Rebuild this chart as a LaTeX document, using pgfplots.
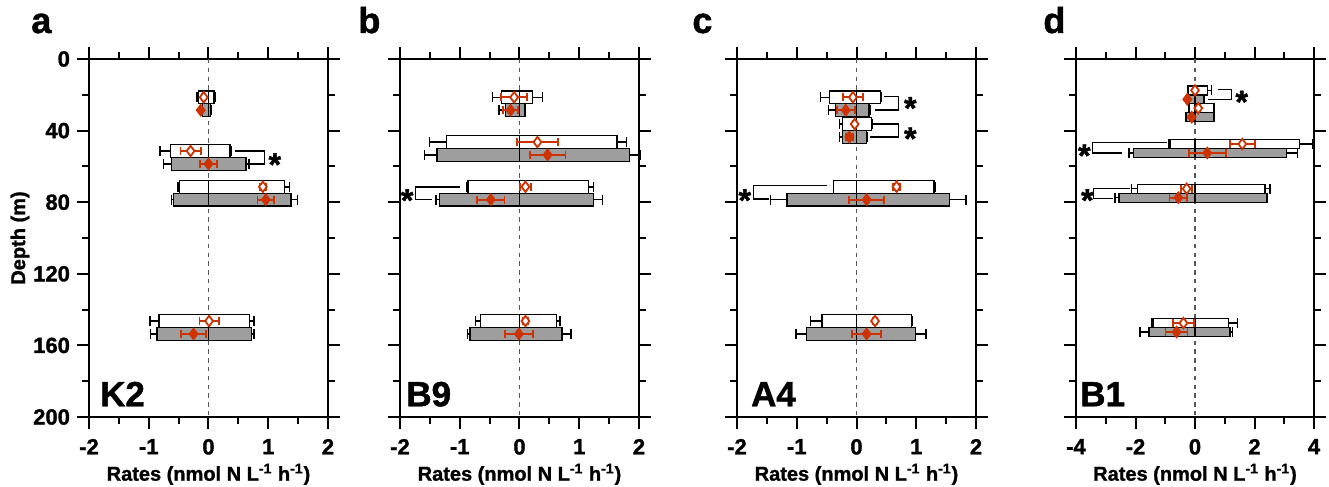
\documentclass[border=0pt]{standalone}
\usepackage{fontspec}
\setmainfont{Liberation Sans}[BoldFeatures={FakeBold=1.3}]
\usepackage{pgfplots}
\usepackage{pgfplotstable}
\pgfplotsset{compat=1.18}

\definecolor{rd}{RGB}{204,51,0}
\definecolor{bg}{RGB}{158,158,158}

% d = depth; w = white bars (neg/pos, error); g = grey bars; o = open marker; f = filled marker
\pgfplotstableread{
d   wn    wne  wp   wpe  gn    gne  gp   gpe  o     oe   f     fe
25  -0.17 0.02 0.09 0.03 -0.10 0.01 0.03 0.01 -0.08 0.03 -0.13 0.02
55  -0.64 0.17 0.36 0.02 -0.62 0.13 0.63 0.05 -0.30 0.17  0.00 0.14
75  -0.49 0.02 1.27 0.09 -0.59 0.03 1.38 0.11  0.91 0.05  0.96 0.14
150 -0.83 0.15 0.69 0.07 -0.86 0.11 0.72 0.04  0.01 0.16 -0.25 0.21
}\tabA
\pgfplotstableread{
d   wn    wne  wp   wpe  gn    gne  gp   gpe  o     oe   f     fe
25  -0.30 0.15 0.22 0.16 -0.23 0.11 0.09 0.01 -0.09 0.22 -0.15 0.12
50  -1.22 0.29 1.63 0.16 -1.38 0.21 1.84 0.18  0.30 0.34  0.47 0.30
75  -0.86 0.02 1.15 0.09 -1.34 0.06 1.24 0.15  0.10 0.09 -0.48 0.23
150 -0.65 0.09 0.62 0.06 -0.83 0.04 0.71 0.15  0.10 0.05 -0.01 0.23
}\tabB
\pgfplotstableread{
d   wn    wne  wp   wpe  gn    gne  gp   gpe  o     oe   f     fe
25  -0.45 0.15 0.40 0.01 -0.35 0.12 0.21 0.02 -0.06 0.17 -0.18 0.15
40  -0.23 0.05 0.25 0.01 -0.23 0.05 0.17 0.01 -0.03 0.03 -0.12 0.06
75  -0.38 0.01 1.30 0.02 -1.16 0.28 1.56 0.27  0.67 0.06  0.17 0.29
150 -0.58 0.19 0.92 0.01 -0.84 0.17 0.99 0.17  0.31 0.04  0.17 0.24
}\tabC
\pgfplotstableread{
d   wn    wne  wp   wpe  gn    gne  gp   gpe  o     oe   f     fe
20  -0.22 0.02 0.41 0.15 -0.22 0.02 0.30 0.02  0.00 0.05 -0.26 0.05
30  -0.19 0.02 0.64 0.02 -0.30 0.02 0.62 0.02  0.11 0.05 -0.11 0.06
50  -0.84 0.05 3.51 0.43 -2.07 0.15 3.08 0.36  1.59 0.42  0.41 0.62
75  -1.94 0.19 2.35 0.17 -2.55 0.14 2.41 0.02 -0.28 0.19 -0.56 0.30
150 -1.40 0.05 1.12 0.30 -1.55 0.30 1.18 0.09 -0.39 0.36 -0.62 0.37
}\tabD

\newcommand{\lblfont}{\bfseries\fontsize{10}{12}\selectfont}
\newcommand{\tickfont}{\bfseries\fontsize{11}{13}\selectfont}
\pgfplotsset{
 panel/.style={
  scale only axis, width=119.5pt, height=179pt,
  y dir=reverse, ymin=0, ymax=200,
  ytick={0,40,...,200}, minor ytick={20,60,...,180},
  tick align=outside, major tick length=6pt, minor tick length=3.5pt,
  tick style={black, line width=1pt},
  axis line style={line width=1pt},
  tick label style={font=\tickfont},
  xticklabel style={yshift=-1.5pt},
  /pgf/number format/assume math mode=true,
  xlabel={Rates (nmol N L\textsuperscript{-1} h\textsuperscript{-1})},
  every axis x label/.style={at={(axis description cs:0.5,-0.16)}, anchor=center, font=\lblfont},
  every axis y label/.style={at={(axis description cs:-0.289,0.5)}, anchor=center, rotate=90, font=\lblfont},
  clip=false,
 },
 barw/.style={xbar, bar shift=0pt, draw=black, line width=0.7pt,
   error bars/error bar style={black, line width=0.7pt},
   error bars/error mark options={draw opacity=0}},
 capb/.style={only marks, mark=|, mark size=2.5pt, mark options={black, line width=0.7pt}},
 capr/.style={only marks, mark=|, mark size=2pt, mark options={rd, line width=0.9pt}},
 redm/.style={only marks, mark=diamond*, mark size=2.6pt,
   error bars/x dir=both, error bars/x explicit,
   error bars/error bar style={rd, line width=0.9pt},
   error bars/error mark options={draw opacity=0}},
 brk/.style={black, line width=0.7pt},
}
\newcommand{\panelbars}[3]{%
 \addplot[barw, bar width=#3, fill=white, error bars/x dir=minus, error bars/x explicit] table[x=wn, y expr=\thisrow{d}-#2, x error=wne] {#1};
 \addplot[barw, bar width=#3, fill=white, error bars/x dir=plus, error bars/x explicit] table[x=wp, y expr=\thisrow{d}-#2, x error=wpe] {#1};
 \addplot[barw, bar width=#3, fill=bg, error bars/x dir=minus, error bars/x explicit] table[x=gn, y expr=\thisrow{d}+#2, x error=gne] {#1};
 \addplot[barw, bar width=#3, fill=bg, error bars/x dir=plus, error bars/x explicit] table[x=gp, y expr=\thisrow{d}+#2, x error=gpe] {#1};
 \addplot[capb] table[x expr=\thisrow{wn}-\thisrow{wne}, y expr=\thisrow{d}-#2] {#1};
 \addplot[capb] table[x expr=\thisrow{wp}+\thisrow{wpe}, y expr=\thisrow{d}-#2] {#1};
 \addplot[capb] table[x expr=\thisrow{gn}-\thisrow{gne}, y expr=\thisrow{d}+#2] {#1};
 \addplot[capb] table[x expr=\thisrow{gp}+\thisrow{gpe}, y expr=\thisrow{d}+#2] {#1};
 \addplot[capr] table[x expr=\thisrow{o}-\thisrow{oe}, y expr=\thisrow{d}-#2] {#1};
 \addplot[capr] table[x expr=\thisrow{o}+\thisrow{oe}, y expr=\thisrow{d}-#2] {#1};
 \addplot[capr] table[x expr=\thisrow{f}-\thisrow{fe}, y expr=\thisrow{d}+#2] {#1};
 \addplot[capr] table[x expr=\thisrow{f}+\thisrow{fe}, y expr=\thisrow{d}+#2] {#1};
 \addplot[redm, mark options={draw=rd, fill=white, line width=0.9pt}] table[x=o, y expr=\thisrow{d}-#2, x error=oe] {#1};
 \addplot[redm, mark options={draw=rd, fill=rd, line width=0.9pt}] table[x=f, y expr=\thisrow{d}+#2, x error=fe] {#1};
}
\newcommand{\zeroline}{\addplot[dashed, dash pattern=on 2.2pt off 2.2pt, black!65, line width=0.7pt] coordinates {(0,0) (0,200)};}
\newcommand{\sig}[2]{\node[anchor=base, inner sep=0pt, yshift=-9pt, font=\bfseries\fontsize{16}{16}\selectfont] at (axis cs:#1,#2) {*};}
\newcommand{\station}[3]{\node[anchor=base west, inner sep=0pt, font=\bfseries\fontsize{17.5}{18}\selectfont] at (axis cs:#1,#2) {#3};}

\begin{document}
\begin{tikzpicture}
\path[use as bounding box] (0,0) rectangle (664.5pt,243.5pt);

% ---- a: K2
\begin{axis}[panel, at={(44.5pt,35pt)}, anchor=south west,
  xmin=-2, xmax=2, xtick={-2,-1,0,1,2}, minor xtick={-1.5,-0.5,0.5,1.5},
  ylabel={Depth (m)}]
\zeroline
\panelbars{\tabA}{3.6}{7.2}
\addplot[brk] coordinates {(0.44,51.4) (0.94,51.4) (0.94,58.6) (0.70,58.6)};
\sig{1.11}{55}
\station{-1.82}{194}{K2}
\end{axis}

% ---- b: B9
\begin{axis}[panel, at={(200pt,35pt)}, anchor=south west,
  xmin=-2, xmax=2, xtick={-2,-1,0,1,2}, minor xtick={-1.5,-0.5,0.5,1.5},
  yticklabels={}]
\zeroline
\panelbars{\tabB}{3.6}{7.2}
\addplot[brk] coordinates {(-1.0,71.4) (-1.74,71.4) (-1.74,78.6) (-1.46,78.6)};
\sig{-1.88}{75}
\station{-1.90}{194}{B9}
\end{axis}

% ---- c: A4
\begin{axis}[panel, at={(368.5pt,35pt)}, anchor=south west,
  xmin=-2, xmax=2, xtick={-2,-1,0,1,2}, minor xtick={-1.5,-0.5,0.5,1.5},
  yticklabels={}]
\zeroline
\panelbars{\tabC}{3.6}{7.2}
\addplot[brk] coordinates {(0.46,21.0) (0.70,21.0) (0.70,28.4) (0.31,28.4)};
\sig{0.90}{23.5}
\addplot[brk] coordinates {(0.27,36.2) (0.70,36.2) (0.70,43.6) (0.22,43.6)};
\sig{0.90}{40.5}
\addplot[brk] coordinates {(-0.50,70.8) (-1.72,70.8) (-1.72,78.2) (-1.46,78.2)};
\sig{-1.87}{75}
\station{-1.77}{194}{A4}
\end{axis}

% ---- d: B1
\begin{axis}[panel, at={(538pt,35pt)}, anchor=south west, width=119pt,
  xmin=-4, xmax=4, xtick={-4,-2,0,2,4}, minor xtick={-3,-1,1,3},
  yticklabels={}]
\zeroline
\panelbars{\tabD}{2.5}{5}
\addplot[brk] coordinates {(0.78,17.0) (1.23,17.0) (1.23,22.5) (0.45,22.5)};
\sig{1.57}{20}
\addplot[brk] coordinates {(-0.95,46.8) (-3.44,46.8) (-3.44,52.6) (-2.47,52.6)};
\sig{-3.72}{50}
\addplot[brk] coordinates {(-2.18,72.4) (-3.41,72.4) (-3.41,77.8) (-2.75,77.8)};
\sig{-3.62}{75}
\station{-3.87}{194}{B1}
\end{axis}

% panel letters
\node[anchor=base west, inner sep=0pt, font=\bfseries\fontsize{18}{18}\selectfont] at (15.5pt,227pt) {a};
\node[anchor=base west, inner sep=0pt, font=\bfseries\fontsize{18}{18}\selectfont] at (179pt,227pt) {b};
\node[anchor=base west, inner sep=0pt, font=\bfseries\fontsize{18}{18}\selectfont] at (346pt,227pt) {c};
\node[anchor=base west, inner sep=0pt, font=\bfseries\fontsize{18}{18}\selectfont] at (521.5pt,227pt) {d};
\end{tikzpicture}
\end{document}
